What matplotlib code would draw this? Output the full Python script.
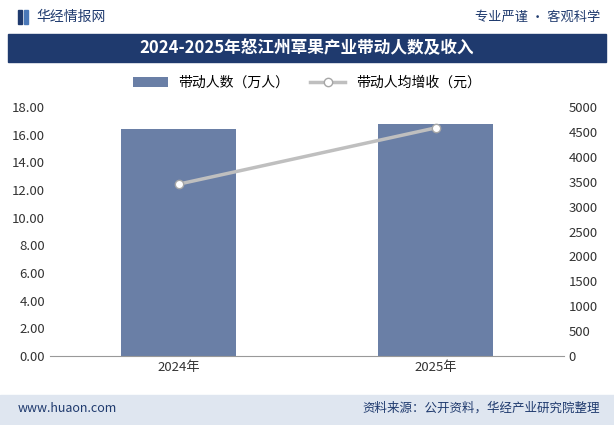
import matplotlib
matplotlib.use("Agg")
import matplotlib.pyplot as plt
from matplotlib.patches import Rectangle

plt.rcParams['font.family'] = ['Noto Sans CJK SC', 'DejaVu Sans']

years = ["2024年", "2025年"]
people = [16.4, 16.8]
income = [3450, 4580]

W, H = 614, 425
fig = plt.figure(figsize=(W/100, H/100), dpi=100)

def fx(x): return x / W
def fy(y): return 1 - y / H

# header
fig.patches.append(Rectangle((fx(18), fy(24)), fx(4), 14/H, transform=fig.transFigure, color="#1f3a6e"))
fig.patches.append(Rectangle((fx(24), fy(24)), fx(4), 14/H, transform=fig.transFigure, color="#4a78b8"))
fig.text(fx(36), fy(17), "华经情报网", fontsize=10, color="#1f3a6e", va="center")
fig.text(fx(600), fy(17), "专业严谨 • 客观科学", fontsize=9.5, color="#1f3a6e", va="center", ha="right")
fig.patches.append(Rectangle((fx(8), fy(62)), fx(598), 28/H, transform=fig.transFigure, color="#1f3a6e"))
fig.text(0.5, fy(48), "2024-2025年怒江州草果产业带动人数及收入", fontsize=12, color="white",
         va="center", ha="center", fontweight="bold")
# footer
fig.patches.append(Rectangle((0, 0), 1, 30/H, transform=fig.transFigure, color="#dfe6f0"))
fig.text(fx(18), fy(408), "www.huaon.com", fontsize=9, color="#1f3a6e", va="center")
fig.text(fx(600), fy(408), "资料来源：公开资料，华经产业研究院整理", fontsize=9, color="#1f3a6e", va="center", ha="right")

ax = fig.add_axes([fx(50), fy(356), fx(514), (356-107)/H])
ax2 = ax.twinx()
x = [0, 1]
b = ax.bar(x, people, width=0.45, color="#6a7fa6", label="带动人数（万人）", zorder=2)
l, = ax2.plot(x, income, color="#bfbfbf", lw=2.5, marker="o", markersize=6,
              markerfacecolor="white", markeredgecolor="#a6a6a6", label="带动人均增收（元）")
ax.set_xlim(-0.5, 1.5)
ax.set_ylim(0, 18)
ax.set_yticks(range(0, 19, 2))
ax.set_yticklabels([f"{v:.2f}" for v in range(0, 19, 2)])
ax2.set_ylim(0, 5000)
ax2.set_yticks(range(0, 5001, 500))
ax.set_xticks(x)
ax.set_xticklabels(years)
for a in (ax, ax2):
    a.tick_params(labelsize=9.5, length=0, colors="#333333")
    for s in a.spines.values():
        s.set_visible(False)
ax.spines['bottom'].set_visible(True)
ax.spines['bottom'].set_color("#999999")
fig.legend([b, l], ["带动人数（万人）", "带动人均增收（元）"], loc="center",
           bbox_to_anchor=(0.5, fy(83)), ncol=2, frameon=False, fontsize=10,
           handlelength=2.5, columnspacing=1.5)
fig.savefig("out.png", dpi=100)
